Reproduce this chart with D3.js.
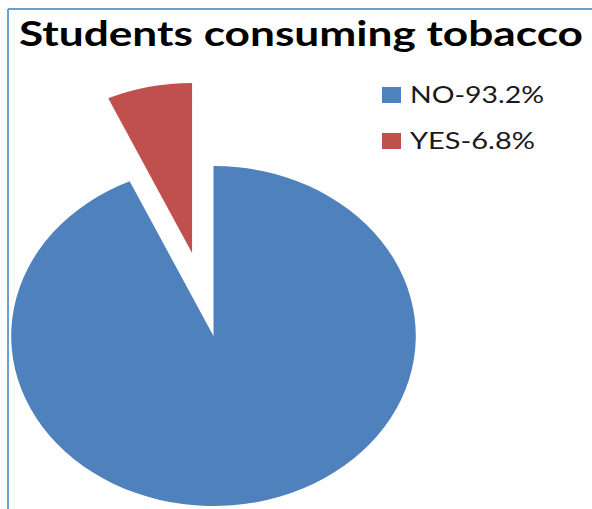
<!DOCTYPE html>
<html>
<head>
<meta charset="utf-8">
<script src="https://cdn.jsdelivr.net/npm/d3@7"></script>
<style>
  html, body { margin: 0; padding: 0; background: #fff; }
  svg { display: block; }
</style>
</head>
<body>
<div id="chart"></div>
<script>
/* ── Data ─────────────────────────────────────────────────────────── */

const categories = ['NO', 'YES'];
const values = [93.2, 6.8];
const legendLabels = ['NO-93.2%', 'YES-6.8%'];
const colors = ['#4f81bd', '#c0504d'];
const explodedIndex = 1;

/* ── Layout ───────────────────────────────────────────────────────── */

const width = 592;
const height = 509;
const cx = 213.5;
const cy = 336;
const radius = 170;
const stretchX = 1.19;   // the source picture is stretched sideways
const explode = 85;

const svg = d3.select('#chart')
  .append('svg')
  .attr('width', width)
  .attr('height', height);

// Frame: only left and top edges are visible in the crop
svg.append('line')
  .attr('x1', 8).attr('y1', 9).attr('x2', 8).attr('y2', height)
  .attr('stroke', '#6a9fd6').attr('stroke-width', 2);
svg.append('line')
  .attr('x1', 8).attr('y1', 9).attr('x2', width).attr('y2', 9)
  .attr('stroke', '#6a9fd6').attr('stroke-width', 2);

/* ── Title ────────────────────────────────────────────────────────── */

svg.append('text')
  .attr('x', 19)
  .attr('y', 46)
  .attr('font-family', 'Lato, "Open Sans", sans-serif')
  .attr('font-weight', 'bold')
  .attr('font-size', 35)
  .attr('fill', '#000')
  .attr('textLength', 564)
  .attr('lengthAdjust', 'spacingAndGlyphs')
  .text('Students consuming tobacco');

/* ── Pie ──────────────────────────────────────────────────────────── */

const pie = d3.pie().sort(null).value(d => d);
const arcs = pie(values);
const arc = d3.arc().innerRadius(0).outerRadius(radius);

const pieG = svg.append('g')
  .attr('transform', `translate(${cx},${cy}) scale(${stretchX},1)`);

pieG.selectAll('path')
  .data(arcs)
  .join('path')
  .attr('d', arc)
  .attr('fill', (d, i) => colors[i])
  .attr('transform', (d, i) => {
    if (i !== explodedIndex) return null;
    const mid = (d.startAngle + d.endAngle) / 2;
    return `translate(${Math.sin(mid) * explode},${-Math.cos(mid) * explode})`;
  });

/* ── Legend ───────────────────────────────────────────────────────── */

const legendY = d3.scalePoint().domain(categories).range([95, 141]);
const legendWidths = [134, 125];

const legend = svg.append('g');
const item = legend.selectAll('g')
  .data(categories)
  .join('g')
  .attr('transform', d => `translate(382,${legendY(d)})`);

item.append('rect')
  .attr('x', 0).attr('y', -8)
  .attr('width', 19).attr('height', 16)
  .attr('fill', (d, i) => colors[i]);

item.append('text')
  .attr('x', 28)
  .attr('y', 7.5)
  .attr('font-family', 'Lato, "Open Sans", sans-serif')
  .attr('font-size', 23.5)
  .attr('fill', '#1a1a1a')
  .attr('textLength', (d, i) => legendWidths[i])
  .attr('lengthAdjust', 'spacingAndGlyphs')
  .text((d, i) => legendLabels[i]);
</script>
</body>
</html>
